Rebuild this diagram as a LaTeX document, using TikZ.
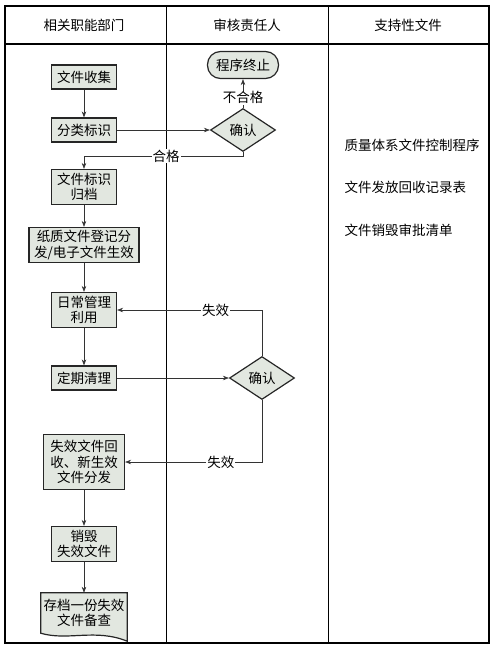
\documentclass[tikz,border=0pt]{standalone}
\usepackage{fontspec}
\setmainfont{Noto Sans CJK SC}
\usetikzlibrary{shapes.geometric, arrows.meta, positioning}

\definecolor{boxfill}{HTML}{E2E7E0}

\begin{document}
\begin{tikzpicture}[
    x=1pt, y=-1pt,
    on grid,
    >={Stealth[length=6pt, width=4.5pt]},
    font=\fontsize{13.5}{15.5}\selectfont,
    stepbox/.style={rectangle, draw=black!85, fill=boxfill, line width=1.2pt, minimum width=65pt, minimum height=24pt, inner xsep=2pt, inner ysep=1pt, align=center},
    check/.style={diamond, aspect=1.5, draw=black!85, fill=boxfill, line width=1.2pt, minimum width=65pt, minimum height=43pt, inner sep=0pt},
    terminal/.style={rectangle, rounded corners=13pt, draw=black!85, fill=boxfill, line width=1.2pt, minimum width=71pt, minimum height=27pt, inner sep=1pt},
    flow/.style={->, line width=0.6pt, draw=black!80},
    tag/.style={fill=white, inner sep=1pt}
]
\useasboundingbox (0,0) rectangle (494,649);

% Lanes
\draw[line width=1.2pt] (5,44) -- (489,44);
\draw[line width=1pt] (166.5,6) -- (166.5,643);
\draw[line width=1pt] (328,6) -- (328,643);
\draw[line width=1.8pt] (5,6) rectangle (489,643);

\node (head1) at (84,25) {相关职能部门};
\node (head2) at (247,25) {审核责任人};
\node (head3) at (408,25) {支持性文件};

% Department lane
\node[stepbox] (collect) at (84,77) {文件收集};
\node[stepbox] (classify) [below=53pt of collect] {分类标识};
\node[stepbox, minimum height=35pt] (archive) [below=57pt of classify] {文件标识\\归档};
\node[stepbox, minimum width=110pt, minimum height=35pt] (paper) [below=58pt of archive] {纸质文件登记分\\发/电子文件生效};
\node[stepbox, minimum height=35pt] (daily) [below=65pt of paper] {日常管理\\利用};
\node[stepbox] (clean) [below=68pt of daily] {定期清理};
\node[stepbox, minimum width=81pt, minimum height=55pt] (recall) [below=84pt of clean] {失效文件回\\收、新生效\\文件分发};
\node[stepbox, minimum height=35pt] (destroy) [below=82pt of recall] {销毁\\失效文件};
\node[minimum width=86pt, minimum height=40pt, inner sep=1pt] (keep) [below=69pt of destroy] {};
\draw[line width=1.2pt, draw=black!85, fill=boxfill] (keep.north west) -- (keep.north east) -- ([yshift=-8pt]keep.south east)
    .. controls +(-32pt,13pt) and +(27pt,-8pt) .. (keep.south west) -- cycle;
\node[align=center] at (keep) {存档一份失效\\文件备查};

% Review lane
\node[check] (check1) [right=159pt of classify] {确认};
\node[terminal] (stop) [above=65pt of check1] {程序终止};
\node[check] (check2) [right=178pt of clean] {确认};

% Support lane
\node[anchor=west] (doc1) at (341,145) {质量体系文件控制程序};
\node[anchor=west] (doc2) at (341,187) {文件发放回收记录表};
\node[anchor=west] (doc3) at (341,230) {文件销毁审批清单};

% Connectors
\draw[flow] (collect) -- (classify);
\draw[flow] (classify) -- (check1);
\draw[flow] (check1) -- node[tag, pos=0.35] {不合格} (stop);
\draw[flow] (check1.south) -- ++(0,4) -| node[tag, pos=0.242] {合格} (archive.north);
\draw[flow] (archive) -- (paper);
\draw[flow] (paper) -- (daily);
\draw[flow] (daily) -- (clean);
\draw[flow] (clean) -- (check2);
\draw[flow] (check2.north) |- node[tag, pos=0.66] {失效} (daily.east);
\draw[flow] (check2.south) |- node[tag, pos=0.65] {失效} (recall.east);
\draw[flow] (recall) -- (destroy);
\draw[flow] (destroy) -- (keep);

\end{tikzpicture}
\end{document}
